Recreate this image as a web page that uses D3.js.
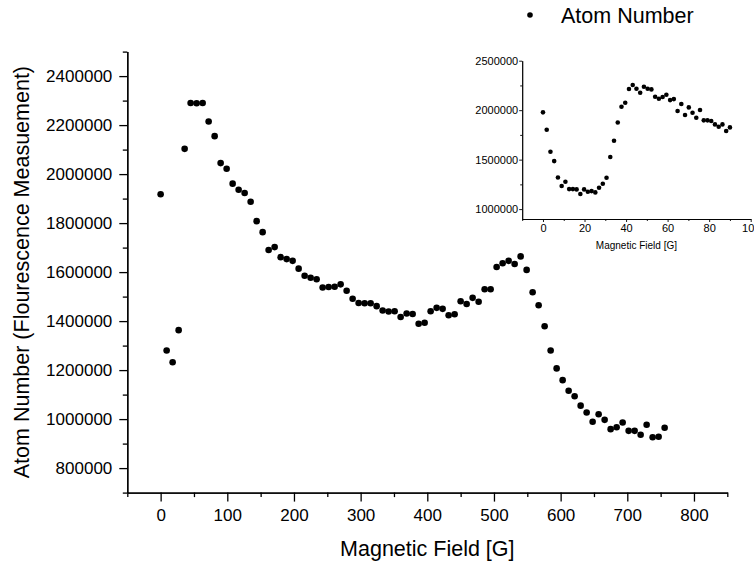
<!DOCTYPE html>
<html>
<head>
<meta charset="utf-8">
<script src="https://cdn.jsdelivr.net/npm/d3@7"></script>
<style>
  body { margin: 0; background: #fff; }
  svg { display: block; font-family: "Liberation Sans", Arial, sans-serif; }
  .axis path, .axis line { stroke: #000; }
  .axis text { fill: #000; }
</style>
</head>
<body>
<script>
var width = 754;
var height = 563;

// Main scan: magnetic field [G] vs atom number
var fieldG = [0, 9, 18, 27, 36, 45, 54, 63, 72, 81, 90, 99, 108, 117, 126, 135, 144, 153, 162, 171,
  180, 189, 198, 207, 216, 225, 234, 243, 252, 261, 270, 279, 288, 297, 306, 315, 324, 333, 342, 351,
  360, 369, 378, 387, 396, 405, 414, 423, 432, 441, 450, 459, 468, 477, 486, 495, 504, 513, 522, 531,
  540, 549, 558, 567, 576, 585, 594, 603, 612, 621, 630, 639, 648, 657, 666, 675, 684, 693, 702, 711,
  720, 729, 738, 747, 756];
var atomNumber = [1918000, 1280000, 1232000, 1363000, 2103000, 2290000, 2289000, 2290000, 2215000, 2155000,
  2045000, 2022000, 1961000, 1936000, 1923000, 1887000, 1808000, 1763000, 1690000, 1702000,
  1661000, 1653000, 1646000, 1614000, 1585000, 1577000, 1571000, 1537000, 1539000, 1540000,
  1550000, 1524000, 1491000, 1474000, 1473000, 1473000, 1461000, 1443000, 1439000, 1440000,
  1417000, 1431000, 1429000, 1389000, 1393000, 1440000, 1454000, 1450000, 1424000, 1428000,
  1481000, 1470000, 1495000, 1479000, 1530000, 1530000, 1621000, 1636000, 1646000, 1633000,
  1664000, 1609000, 1518000, 1465000, 1379000, 1280000, 1207000, 1159000, 1116000, 1093000,
  1055000, 1027000, 989000, 1020000, 997000, 959000, 967000, 986000, 952000, 952000,
  936000, 977000, 926000, 928000, 965000];

// Inset: low field scan
var insetField = [0, 1.8, 3.6, 5.4, 7.2, 9, 10.8, 12.6, 14.4, 16.2, 18, 19.8, 21.6, 23.4, 25.2, 27, 28.8,
  30.6, 32.4, 34.2, 36, 37.8, 39.6, 41.4, 43.2, 45, 46.8, 48.6, 50.4, 52.2, 54, 55.8, 57.6, 59.4,
  61.2, 63, 64.8, 66.6, 68.4, 70.2, 72, 73.8, 75.6, 77.4, 79.2, 81, 82.8, 84.6, 86.4, 88.2, 90];
var insetAtoms = [1978000, 1802000, 1580000, 1485000, 1320000, 1233000, 1276000, 1202000, 1202000, 1199000,
  1152000, 1199000, 1175000, 1182000, 1169000, 1216000, 1256000, 1317000, 1526000, 1691000,
  1876000, 2035000, 2075000, 2214000, 2254000, 2217000, 2176000, 2237000, 2217000, 2210000,
  2136000, 2116000, 2133000, 2156000, 2102000, 2112000, 1991000, 2062000, 1951000, 2028000,
  1974000, 1924000, 2001000, 1897000, 1897000, 1890000, 1856000, 1833000, 1856000, 1789000, 1826000];

var xMajor = [0, 100, 200, 300, 400, 500, 600, 700, 800];
var xMinor = [-50, 50, 150, 250, 350, 450, 550, 650, 750, 850];
var yMajor = [800000, 1000000, 1200000, 1400000, 1600000, 1800000, 2000000, 2200000, 2400000];
var yMinor = [700000, 900000, 1100000, 1300000, 1500000, 1700000, 1900000, 2100000, 2300000, 2500000];

var insetXMajor = [0, 20, 40, 60, 80, 100];
var insetXMinor = [-10, 10, 30, 50, 70, 90];
var insetYMajor = [1000000, 1500000, 2000000, 2500000];
var insetYMinor = [1250000, 1750000, 2250000];

var svg = d3.select('body')
  .append('svg')
  .attr('width', width)
  .attr('height', height);

svg.append('rect').attr('width', width).attr('height', height).attr('fill', '#fff');

// ---------- main chart ----------
var xScale = d3.scaleLinear().domain([-50, 850]).range([127.3, 727.3]);
var yScale = d3.scaleLinear().domain([700000, 2500000]).range([492.6, 51.6]);

var main = svg.append('g');

main.append('g')
  .attr('class', 'axis')
  .attr('transform', 'translate(0,' + yScale(700000) + ')')
  .call(d3.axisBottom(xScale).tickValues(xMinor).tickSize(4.5).tickSizeOuter(0).tickFormat(''))
  .call(function(g) { g.selectAll('path, line').attr('stroke-width', 1.3); });

main.append('g')
  .attr('class', 'axis')
  .attr('transform', 'translate(0,' + yScale(700000) + ')')
  .call(d3.axisBottom(xScale).tickValues(xMajor).tickSize(9).tickSizeOuter(0).tickPadding(7.5).tickFormat(d3.format('d')))
  .call(function(g) {
    g.selectAll('path, line').attr('stroke-width', 1.3);
    g.selectAll('text').attr('font-size', 17);
  });

main.append('g')
  .attr('class', 'axis')
  .attr('transform', 'translate(' + xScale(-50) + ',0)')
  .call(d3.axisLeft(yScale).tickValues(yMinor).tickSize(4.5).tickSizeOuter(0).tickFormat(''))
  .call(function(g) { g.selectAll('path, line').attr('stroke-width', 1.3); });

main.append('g')
  .attr('class', 'axis')
  .attr('transform', 'translate(' + xScale(-50) + ',0)')
  .call(d3.axisLeft(yScale).tickValues(yMajor).tickSize(8).tickSizeOuter(0).tickPadding(7).tickFormat(d3.format('d')))
  .call(function(g) {
    g.selectAll('path, line').attr('stroke-width', 1.3);
    g.selectAll('text').attr('font-size', 17);
  });

main.selectAll('circle.pt')
  .data(fieldG)
  .enter()
  .append('circle')
  .attr('class', 'pt')
  .attr('r', 3.3)
  .attr('cx', function(d) { return xScale(d); })
  .attr('cy', function(d, i) { return yScale(atomNumber[i]); })
  .attr('fill', '#000');

main.append('text')
  .attr('x', (xScale(-50) + xScale(850)) / 2)
  .attr('y', 556)
  .attr('text-anchor', 'middle')
  .attr('font-size', 21.5)
  .text('Magnetic Field [G]');

main.append('text')
  .attr('transform', 'translate(29,' + (yScale(700000) + yScale(2500000)) / 2 + ') rotate(-90)')
  .attr('text-anchor', 'middle')
  .attr('font-size', 21.5)
  .text('Atom Number (Flourescence Measuement)');

// legend
svg.append('circle').attr('cx', 530).attr('cy', 15).attr('r', 2.8).attr('fill', '#000');
svg.append('text')
  .attr('x', 561)
  .attr('y', 22.5)
  .attr('font-size', 21.5)
  .text('Atom Number');

// ---------- inset ----------
var ixScale = d3.scaleLinear().domain([-10, 100]).range([522.2, 750.7]);
var iyScale = d3.scaleLinear().domain([900000, 2500000]).range([219, 60.7]);

var inset = svg.append('g');

inset.append('g')
  .attr('class', 'axis')
  .attr('transform', 'translate(0,' + iyScale(900000) + ')')
  .call(d3.axisBottom(ixScale).tickValues(insetXMinor).tickSize(2).tickSizeOuter(0).tickFormat(''))
  .call(function(g) { g.selectAll('path, line').attr('stroke-width', 0.9); });

inset.append('g')
  .attr('class', 'axis')
  .attr('transform', 'translate(0,' + iyScale(900000) + ')')
  .call(d3.axisBottom(ixScale).tickValues(insetXMajor).tickSize(3).tickSizeOuter(0).tickPadding(2.5).tickFormat(d3.format('d')))
  .call(function(g) {
    g.selectAll('path, line').attr('stroke-width', 0.9);
    g.selectAll('text').attr('font-size', 11);
  });

inset.append('g')
  .attr('class', 'axis')
  .attr('transform', 'translate(' + ixScale(-10) + ',0)')
  .call(d3.axisLeft(iyScale).tickValues(insetYMinor).tickSize(2).tickSizeOuter(0).tickFormat(''))
  .call(function(g) { g.selectAll('path, line').attr('stroke-width', 0.9); });

inset.append('g')
  .attr('class', 'axis')
  .attr('transform', 'translate(' + ixScale(-10) + ',0)')
  .call(d3.axisLeft(iyScale).tickValues(insetYMajor).tickSize(3).tickSizeOuter(0).tickPadding(1).tickFormat(d3.format('d')))
  .call(function(g) {
    g.selectAll('path, line').attr('stroke-width', 0.9);
    g.selectAll('text').attr('font-size', 11);
  });

inset.selectAll('circle.ipt')
  .data(insetField)
  .enter()
  .append('circle')
  .attr('class', 'ipt')
  .attr('r', 2.3)
  .attr('cx', function(d) { return ixScale(d); })
  .attr('cy', function(d, i) { return iyScale(insetAtoms[i]); })
  .attr('fill', '#000');

inset.append('text')
  .attr('x', (ixScale(-10) + ixScale(100)) / 2)
  .attr('y', 248.5)
  .attr('text-anchor', 'middle')
  .attr('font-size', 10)
  .text('Magnetic Field [G]');
</script>
</body>
</html>
